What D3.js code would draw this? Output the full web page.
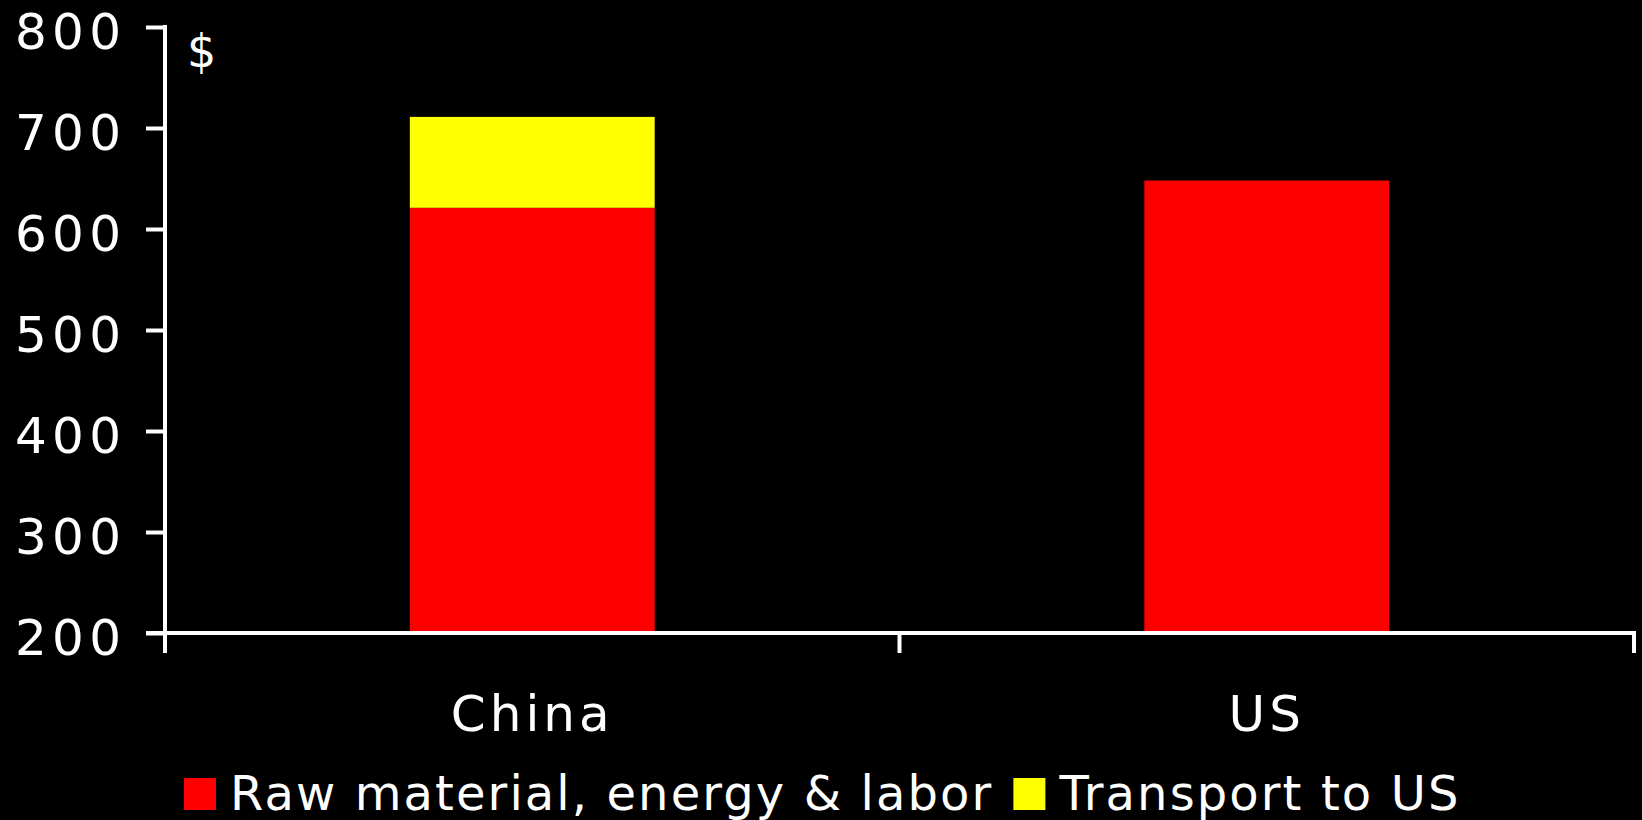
<!DOCTYPE html>
<html>
<head>
<meta charset="utf-8">
<script src="https://cdn.jsdelivr.net/npm/d3@7"></script>
<style>
  html, body { margin: 0; padding: 0; background: #000; }
  svg { display: block; }
  text { font-family: "DejaVu Sans", sans-serif; fill: #fff; }
</style>
</head>
<body>
<svg id="chart" width="1642" height="820"></svg>
<script>
// ---- data ----
const categories = ["China", "US"];
const seriesNames = ["Raw material, energy & labor", "Transport to US"];
const rawMaterialValues = [621, 648];
const transportValues = [90, 0];
const seriesColors = ["#ff0000", "#ffff00"];
const yTickValues = [200, 300, 400, 500, 600, 700, 800];
const unitLabel = "$";

// ---- layout ----
const W = 1642, H = 820;
const plot = { left: 165, right: 1634, top: 27, bottom: 633 };

const svg = d3.select("#chart");
svg.append("rect").attr("width", W).attr("height", H).attr("fill", "#000");

const x = d3.scaleBand().domain(categories).range([plot.left, plot.right]).paddingInner(0).paddingOuter(0);
const y = d3.scaleLinear().domain([200, 800]).range([plot.bottom, plot.top]);
const color = d3.scaleOrdinal().domain(seriesNames).range(seriesColors);

const table = categories.map((c, i) => ({
  category: c,
  [seriesNames[0]]: rawMaterialValues[i],
  [seriesNames[1]]: transportValues[i]
}));
const stacked = d3.stack().keys(seriesNames)(table);

// bars
const barW = x.bandwidth() / 3;
svg.append("g").selectAll("g").data(stacked).join("g")
  .attr("fill", d => color(d.key))
  .selectAll("rect").data(d => d.filter(p => p[1] > p[0])).join("rect")
  .attr("x", d => x(d.data.category) + (x.bandwidth() - barW) / 2)
  .attr("width", barW)
  .attr("y", d => y(d[1]))
  .attr("height", d => y(Math.max(200, d[0])) - y(d[1]));

// y axis
const yAxis = d3.axisLeft(y).tickValues(yTickValues).tickSize(19).tickSizeOuter(0).tickPadding(28);
const gy = svg.append("g").attr("transform", `translate(${plot.left},0)`).call(yAxis);
gy.select(".domain").attr("stroke", "#fff").attr("stroke-width", 4)
  .attr("d", `M0,${plot.top - 2}V${plot.bottom + 2}`);
gy.selectAll(".tick line").attr("stroke", "#fff").attr("stroke-width", 4);
gy.selectAll(".tick text")
  .attr("fill", "#fff")
  .style("font-family", "'DejaVu Sans', sans-serif")
  .style("font-size", "50px")
  .attr("text-anchor", "end")
  .attr("textLength", 106)
  .attr("lengthAdjust", "spacing")
  .attr("x", -44)
  .attr("dy", "21px");

// x axis
const xTickPositions = [plot.left, x("US"), plot.right];
const gx = svg.append("g");
gx.append("line")
  .attr("x1", plot.left - 19).attr("x2", plot.right + 2)
  .attr("y1", plot.bottom).attr("y2", plot.bottom)
  .attr("stroke", "#fff").attr("stroke-width", 4);
gx.selectAll(".xtick").data(xTickPositions).join("line")
  .attr("x1", d => d).attr("x2", d => d)
  .attr("y1", plot.bottom).attr("y2", plot.bottom + 20)
  .attr("stroke", "#fff").attr("stroke-width", 4);
gx.selectAll(".xlabel").data(categories).join("text")
  .attr("x", d => x(d) + x.bandwidth() / 2)
  .attr("y", 731)
  .attr("text-anchor", "middle")
  .style("font-size", "50px")
  .style("letter-spacing", "4px")
  .text(d => d);

// unit label
svg.append("text").attr("x", 187).attr("y", 67)
  .style("font-size", "46px").text(unitLabel);

// legend
const legend = svg.append("g");
let lx = 184;
seriesNames.forEach((name, i) => {
  legend.append("rect").attr("x", lx).attr("y", 778).attr("width", 32).attr("height", 32)
    .attr("fill", color(name));
  const t = legend.append("text").attr("x", lx + 46).attr("y", 810)
    .style("font-size", "48px").style("letter-spacing", "2.1px").text(name);
  const w = t.node().getComputedTextLength();
  lx = lx + 46 + w + 20;
});
</script>
</body>
</html>
